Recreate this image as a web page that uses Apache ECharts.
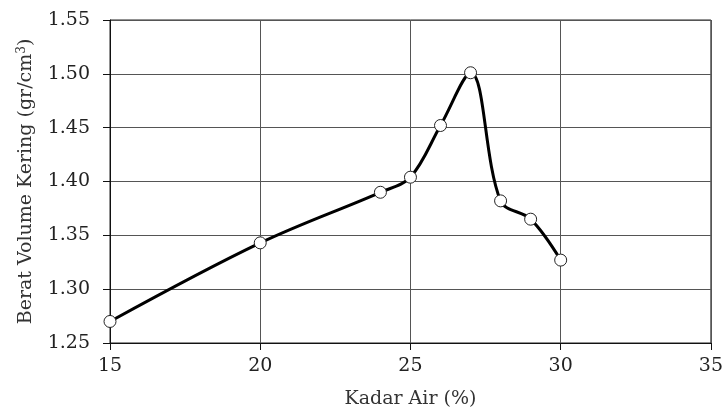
<!DOCTYPE html>
<html><head><meta charset="utf-8">
<script src="https://cdn.jsdelivr.net/npm/echarts@6/dist/echarts.min.js"></script>
<style>html,body{margin:0;padding:0;background:#fff}#c{width:726px;height:414px}</style>
</head><body><div id="c"></div>
<script>
var kadarAir = [15, 20, 24, 25, 26, 27, 28, 29, 30];
var beratVolume = [1.270, 1.343, 1.390, 1.404, 1.452, 1.501, 1.382, 1.365, 1.327];
var xTicks = [15, 20, 25, 30, 35];
var yTicks = [1.25, 1.30, 1.35, 1.40, 1.45, 1.50, 1.55];

var F = '"DejaVu Serif", "Liberation Serif", serif';
var chart = echarts.init(document.getElementById('c'));
chart.setOption({
  animation: false,
  grid: { left: 110, right: 13, top: 20, bottom: 71, show: true, borderColor: '#222', borderWidth: 1 },
  xAxis: {
    type: 'value', min: xTicks[0], max: xTicks[xTicks.length - 1], interval: 5,
    name: 'Kadar Air (%)', nameLocation: 'middle', nameGap: 47,
    nameTextStyle: { fontFamily: F, fontSize: 19, color: '#333' },
    axisLine: { show: true, lineStyle: { color: '#111' } },
    axisTick: { show: true, length: 7, lineStyle: { color: '#111' } },
    axisLabel: { fontFamily: F, fontSize: 19, color: '#222', margin: 14 },
    splitLine: { show: true, lineStyle: { color: '#555', width: 1 } }
  },
  yAxis: {
    type: 'value', min: yTicks[0], max: yTicks[yTicks.length - 1], interval: 0.05,
    name: '{a|Berat Volume Kering (gr/cm}{b|3}{a|)}', nameLocation: 'middle', nameGap: 73,
    nameRotate: 90,
    nameTextStyle: {
      rich: {
        a: { fontFamily: F, fontSize: 19, color: '#333' },
        b: { fontFamily: F, fontSize: 12, color: '#333', verticalAlign: 'top', padding: [0, 0, 9, 0] }
      }
    },
    axisLine: { show: true, lineStyle: { color: '#111' } },
    axisTick: { show: true, length: 7, lineStyle: { color: '#111' } },
    axisLabel: { fontFamily: F, fontSize: 19, color: '#222', margin: 20, formatter: function (v) { return v.toFixed(2); } },
    splitLine: { show: true, lineStyle: { color: '#555', width: 1 } }
  },
  series: [{
    type: 'line',
    data: kadarAir.map(function (x, i) { return [x, beratVolume[i]]; }),
    smooth: 0.35,
    lineStyle: { color: '#000', width: 3 },
    symbol: 'circle', symbolSize: 12,
    itemStyle: { color: '#fff', borderColor: '#222', borderWidth: 1 }
  }]
});
</script></body></html>
